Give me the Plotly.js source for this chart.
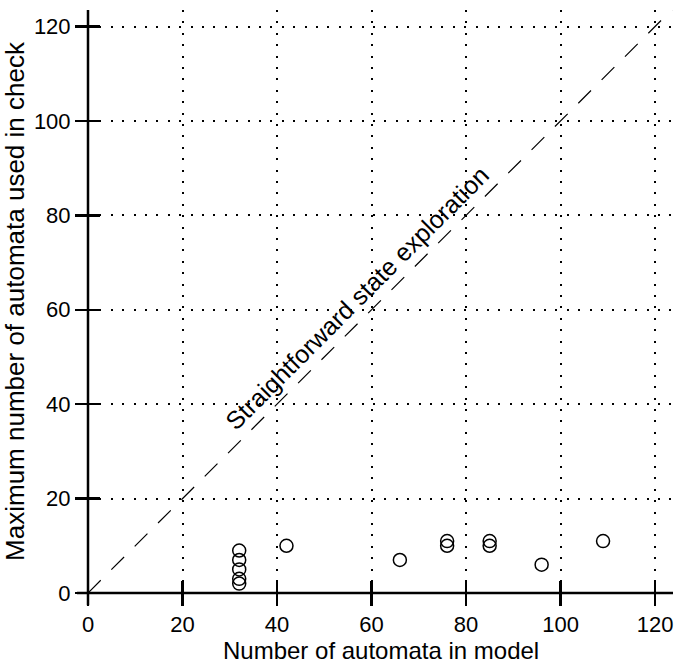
<!DOCTYPE html>
<html>
<head>
<meta charset="utf-8">
<script src="https://cdn.plot.ly/plotly-3.0.1.min.js"></script>
<style>html,body{margin:0;padding:0;background:#fff;}#chart{width:675px;height:664px;}</style>
</head>
<body>
<div id="chart"></div>
<script>
// Data
const modelAutomata = [32, 32, 32, 32, 32, 42, 66, 76, 76, 85, 85, 96, 109];
const usedAutomata  = [2, 3, 5, 7, 9, 10, 7, 10, 11, 10, 11, 6, 11];
const diagX = [0, 130];
const diagY = [0, 130];
const tickVals = [0, 20, 40, 60, 80, 100, 120];
const xTitle = "Number of automata in model";
const yTitle = "Maximum number of automata used in check";
const diagLabel = "Straightforward state exploration";

const FONT = "Liberation Sans, Arial, sans-serif";

const traces = [
  {x: diagX, y: diagY, mode: "lines", type: "scatter",
   line: {color: "#000", width: 1.2, dash: "18px,15px"}, hoverinfo: "skip", showlegend: false},
  {x: modelAutomata, y: usedAutomata, mode: "markers", type: "scatter",
   marker: {symbol: "circle-open", size: 13, color: "#000", line: {width: 1.5, color: "#000"}},
   showlegend: false, cliponaxis: false},
  {x: [], y: [], xaxis: "x2", yaxis: "y2", type: "scatter", showlegend: false}
];

const axCommon = {
  tickvals: tickVals, ticktext: tickVals.map(String),
  showline: false, zeroline: false,
  tickcolor: "#000", tickwidth: 2.5, ticklen: 12,
  tickfont: {family: FONT, size: 22, color: "#000"},
  showgrid: true, gridcolor: "#000", gridwidth: 2, griddash: "2px,9.4px"
};

const layout = {
  width: 675, height: 664,
  margin: {l: 88, r: 2, t: 10, b: 71},
  paper_bgcolor: "#fff", plot_bgcolor: "#fff",
  font: {family: FONT, color: "#000"},
  xaxis: Object.assign({}, axCommon, {
    range: [0, 123.8], ticks: "outside"
  }),
  yaxis: Object.assign({}, axCommon, {
    range: [0, 123.5], ticks: "outside",
    title: {text: yTitle, font: {family: FONT, size: 26, color: "#000"}, standoff: 6}
  }),
  xaxis2: {overlaying: "x", matches: "x", anchor: "y2", range: [0, 123.8], tickvals: tickVals,
    ticks: "inside", ticklen: 12, tickwidth: 2.5, tickcolor: "#000", showticklabels: false,
    showgrid: false, zeroline: false, showline: false},
  yaxis2: {overlaying: "y", matches: "y", anchor: "x2", range: [0, 123.5], tickvals: tickVals,
    ticks: "inside", ticklen: 12, tickwidth: 2.5, tickcolor: "#000", showticklabels: false,
    showgrid: false, zeroline: false, showline: false},
  shapes: [
    {type: "line", xref: "paper", yref: "paper", x0: -0.019, x1: 1, y0: 0, y1: 0,
     line: {color: "#000", width: 2.5}, layer: "above"},
    {type: "line", xref: "paper", yref: "paper", x0: 0, x1: 0, y0: -0.021, y1: 1,
     line: {color: "#000", width: 2.5}, layer: "above"}
  ],
  annotations: [
    {x: 56.9, y: 62.5, xref: "x", yref: "y", text: diagLabel, showarrow: false,
     textangle: -45, font: {family: FONT, size: 25, color: "#000"}},
    {x: 0.5, y: 0, xref: "paper", yref: "paper", xanchor: "center", yanchor: "top",
     yshift: -43, text: xTitle, showarrow: false, borderpad: 0,
     font: {family: FONT, size: 24, color: "#000"}}
  ],
  showlegend: false
};

Plotly.newPlot("chart", traces, layout, {displayModeBar: false, staticPlot: true});
</script>
</body>
</html>
